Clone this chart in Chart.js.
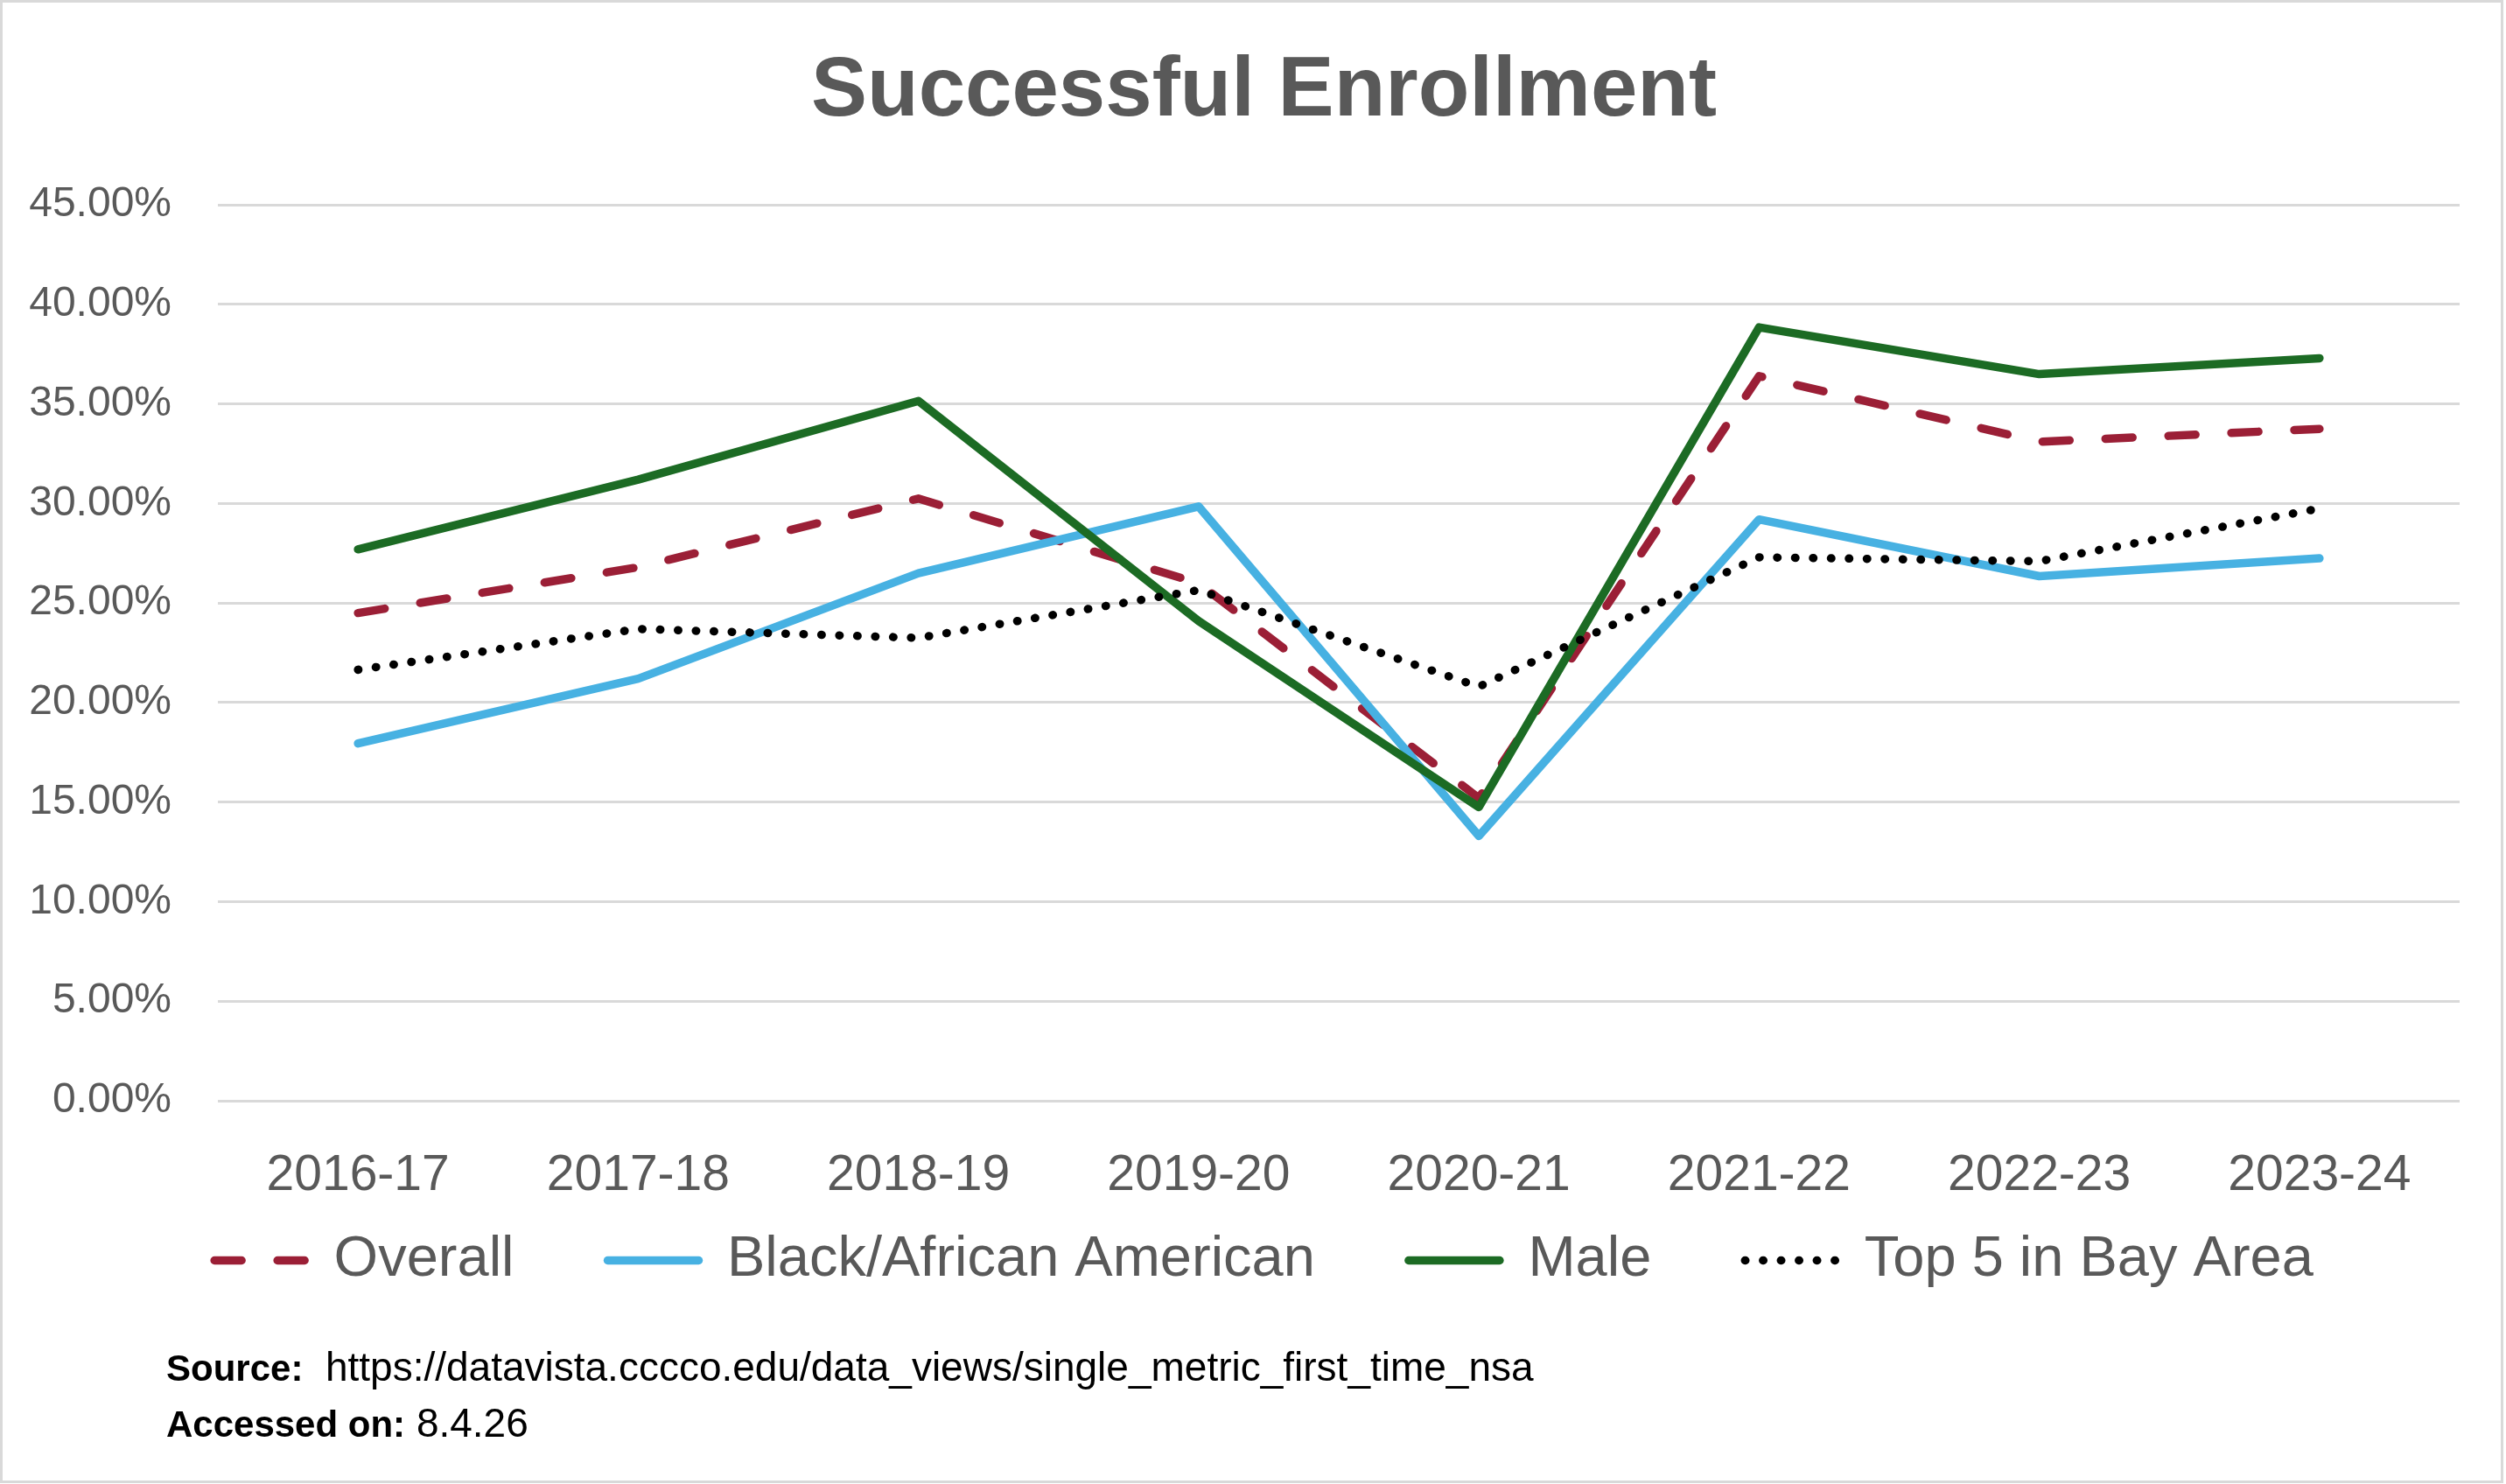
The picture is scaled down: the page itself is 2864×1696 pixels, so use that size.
<!DOCTYPE html>
<html lang="en">
<head>
<meta charset="UTF-8">
<title>Successful Enrollment</title>
<script src="https://cdn.jsdelivr.net/npm/chart.js"></script>
<style>
  body { margin: 0; background: #fff; }
  .wrap { position: relative; width: 2864px; height: 1696px; }
  .frame {
    position: absolute; left: 0; top: 0; width: 2861px; height: 1695px;
    box-sizing: border-box; border: 3px solid #d9d9d9; pointer-events: none;
  }
  .source {
    position: absolute; left: 190px; top: 1531px;
    font-family: "Liberation Sans", Arial, sans-serif;
    font-size: 46px; line-height: 62px; color: #000;
  }
  .source b { font-size: 42px; }
</style>
</head>
<body>
<div class="wrap">
  <canvas id="enrollChart"></canvas>
  <div class="source">
    <div><b>Source:</b>&nbsp; https://datavista.cccco.edu/data_views/single_metric_first_time_nsa</div>
    <div><b>Accessed on:</b> 8.4.26</div>
  </div>
  <div class="frame"></div>
</div>

<script>
// data (percent)
const years = ['2016-17', '2017-18', '2018-19', '2019-20', '2020-21', '2021-22', '2022-23', '2023-24'];
const overall = [24.5, 26.8, 30.25, 26.0, 15.2, 36.4, 33.1, 33.75];
const blackAfricanAmerican = [17.95, 21.2, 26.5, 29.85, 13.3, 29.2, 26.35, 27.25];
const male = [27.7, 31.2, 35.15, 24.1, 14.75, 38.85, 36.5, 37.3];
const top5BayArea = [21.65, 23.7, 23.25, 25.65, 20.8, 27.3, 27.1, 29.75];

const yTicks = [0, 5, 10, 15, 20, 25, 30, 35, 40, 45];

const grey = '#595959';
const font = '"Liberation Sans", Arial, sans-serif';

function series(label, data, color, dash, order) {
  return {
    label: label,
    data: data,
    borderColor: color,
    backgroundColor: color,
    borderWidth: 9.5,
    borderDash: dash,
    borderCapStyle: 'round',
    borderJoinStyle: 'round',
    pointRadius: 0,
    pointHoverRadius: 0,
    tension: 0,
    fill: false,
    order: order
  };
}

// tick labels are clipped to their scale box; give them the room they need
const labelRoom = {
  id: 'labelRoom',
  afterLayout(chart) {
    chart.scales.y.left = 0;
    chart.scales.x.bottom = chart.height;
  }
};

const ctx = document.getElementById('enrollChart').getContext('2d');
const enrollChart = new Chart(ctx, {
  type: 'line',
  data: {
    labels: years,
    datasets: [
      series('Overall', overall, '#9b1f36', [31, 41], 4),
      series('Black/African American', blackAfricanAmerican, '#47b1e2', [], 3),
      series('Male', male, '#1c6b24', [], 2),
      series('Top 5 in Bay Area', top5BayArea, '#000000', [0.5, 20], 1)
    ]
  },
  plugins: [labelRoom],
  options: {
    responsive: true,
    maintainAspectRatio: false,
    animation: false,
    layout: { padding: { left: 78, right: 53, top: 0, bottom: 213 } },
    plugins: {
      title: {
        display: true,
        text: 'Successful Enrollment',
        color: grey,
        font: { family: font, size: 96, weight: 'bold' },
        padding: { top: 48, bottom: 71 }
      },
      legend: {
        position: 'bottom',
        labels: {
          color: grey,
          font: { family: font, size: 65 },
          usePointStyle: true,
          pointStyle: 'line',
          pointStyleWidth: 104,
          padding: 107,
          sort: (a, b) => a.datasetIndex - b.datasetIndex,
          generateLabels: function(chart) {
            const items = Chart.defaults.plugins.legend.labels.generateLabels(chart);
            items.forEach(item => {
              const ds = chart.data.datasets[item.datasetIndex];
              item.lineDash = ds.borderDash;
              item.lineCap = 'round';
              item.lineWidth = ds.borderWidth;
              item.strokeStyle = ds.borderColor;
            });
            return items;
          }
        }
      },
      tooltip: { enabled: false }
    },
    scales: {
      x: {
        offset: true,
        grid: { display: false },
        border: { display: false },
        ticks: {
          color: grey,
          font: { family: font, size: 57 },
          padding: 44,
          maxRotation: 0,
          autoSkip: false
        },
        afterFit: function(scale) {
          scale.height = 43;
          scale.paddingLeft = 0;
          scale.paddingRight = 0;
        }
      },
      y: {
        min: 0,
        max: 45,
        afterBuildTicks: function(scale) {
          scale.ticks = yTicks.map(v => ({ value: v }));
        },
        grid: { color: '#d9d9d9', lineWidth: 3, drawTicks: false },
        border: { display: false },
        ticks: {
          color: grey,
          font: { family: font, size: 48 },
          padding: 53,
          callback: v => v.toFixed(2) + '%'
        },
        afterFit: function(scale) {
          scale.width = 171;
        }
      }
    }
  }
});
</script>
</body>
</html>
